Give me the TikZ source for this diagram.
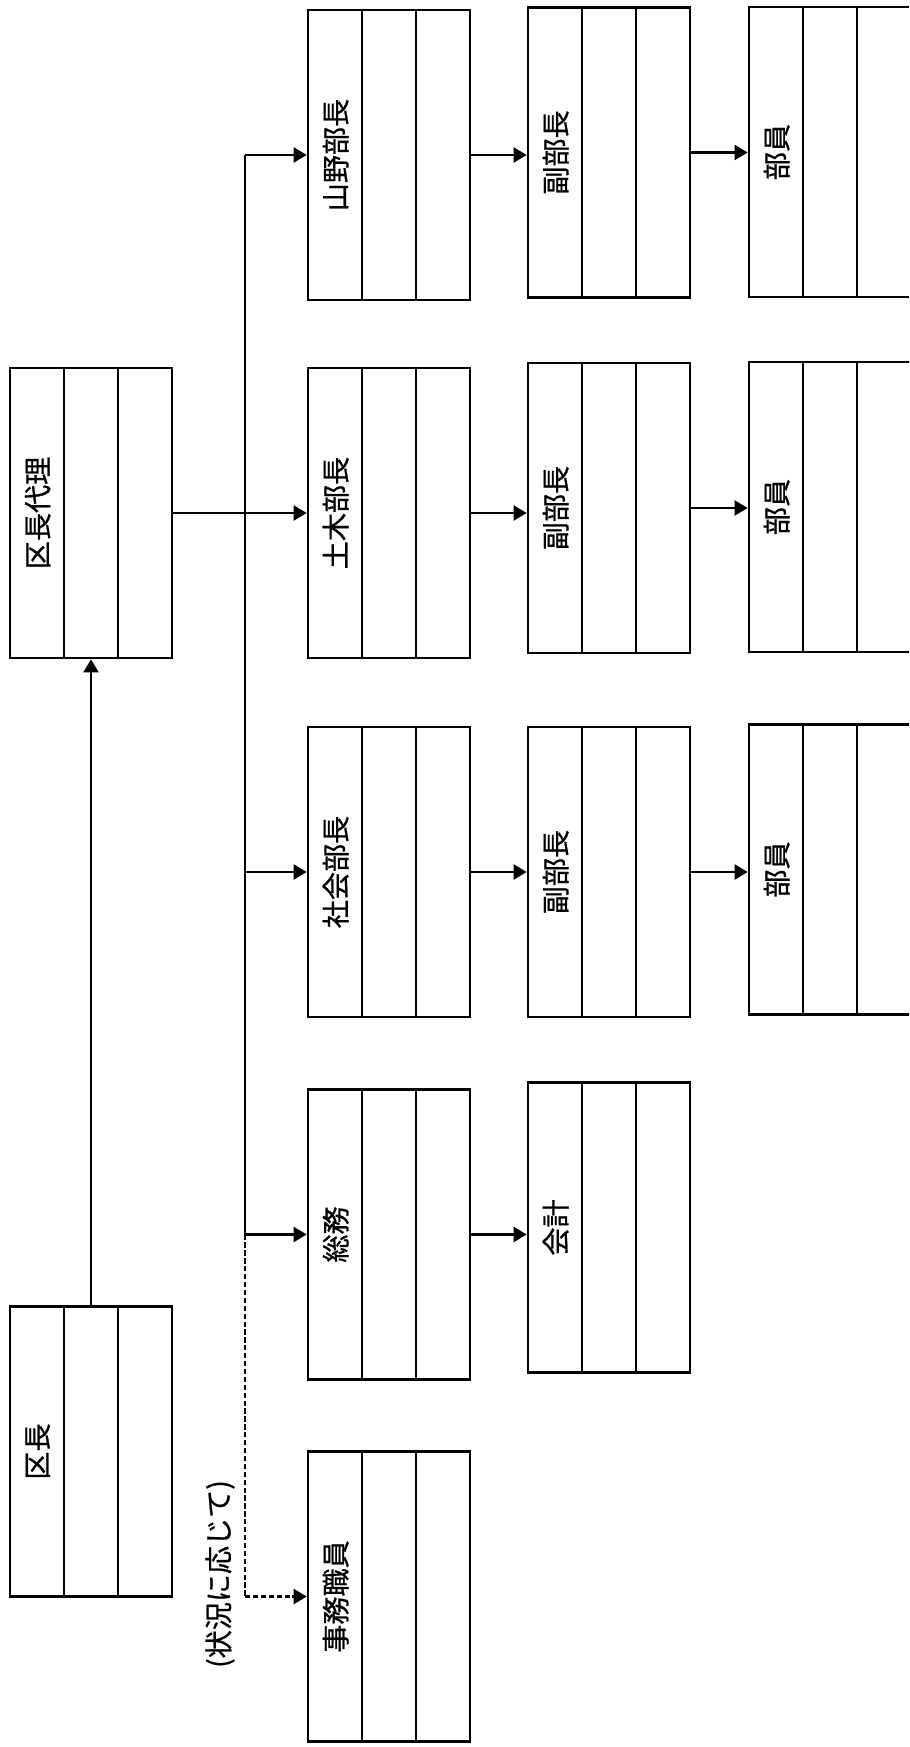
\documentclass[tikz,border=0pt]{standalone}
\usepackage{fontspec}
\setmainfont[FakeBold=0.8]{Noto Sans CJK JP}
\usetikzlibrary{arrows.meta, calc}
\tikzset{
    font=\fontsize{16pt}{16pt}\selectfont,
    box/.style={draw, line width=1.5pt, minimum width=3.24cm, minimum height=5.8cm,
                inner sep=0pt,
                path picture={
                    \foreach \f in {1,2} {
                        \draw[line width=1.3pt]
                            ($(path picture bounding box.north west)!\f/3!(path picture bounding box.north east)$) --
                            ($(path picture bounding box.south west)!\f/3!(path picture bounding box.south east)$);
                    }
                }},
    lbl/.style={rotate=90, inner sep=0pt},
    note/.style={rotate=90, inner sep=0pt},
    link/.style={-{Triangle[length=0.26cm, width=0.3cm]}, line width=1.2pt},
    trunk/.style={line width=1.2pt},
    maybe/.style={dash pattern=on 3pt off 1.5pt, line width=1.2pt},
}
% box with its title in the first stripe
\newcommand{\kumi}[4]{%
    \node[box] (#1) at (#2,#3) {};
    \node[lbl] (#1-t) at ($(#1.west)+(0.58,0)$) {#4};
}

\begin{document}
\begin{tikzpicture}[x=1cm, y={(0cm,-1cm)}]
    \useasboundingbox (0,0) rectangle (18.18,34.94);
    \clip (0,0) rectangle (18.18,34.94);

    \kumi{kucho}{1.82}{29.03}{区長}
    \kumi{dairi}{1.82}{10.26}{区長代理}

    \kumi{jimu}{7.78}{31.93}{事務職員}
    \kumi{somu}{7.78}{24.69}{総務}
    \kumi{kaikei}{12.18}{24.55}{会計}

    \kumi{shakai}{7.78}{17.44}{社会部長}
    \kumi{shakaifuku}{12.18}{17.44}{副部長}
    \kumi{shakaiin}{16.6}{17.39}{部員}

    \kumi{doboku}{7.78}{10.26}{土木部長}
    \kumi{dobokufuku}{12.18}{10.16}{副部長}
    \kumi{dobokuin}{16.6}{10.14}{部員}

    \kumi{sanya}{7.78}{3.1}{山野部長}
    \kumi{sanyafuku}{12.18}{3.05}{副部長}
    \kumi{sanyain}{16.6}{3.04}{部員}

    \coordinate (spine) at (4.9,0);

    \draw[link] (kucho.north) -- (dairi.south);
    \draw[link] (dairi.east) -- (dairi.east -| doboku.west);

    % trunk and branches
    \draw[trunk] (spine |- sanya.west) -- (spine |- somu.west);
    \draw[maybe] (spine |- somu.west) -- (spine |- jimu.west);
    \foreach \n in {sanya, shakai, somu} {
        \draw[link] (spine |- \n.west) -- (\n.west);
    }
    \draw[link, maybe] (spine |- jimu.west) -- (jimu.west);
    \node[note] (jokyo) at (4.4,31.48) {(状況に応じて)};

    % chains
    \draw[link] (somu.east) -- (somu.east -| kaikei.west);
    \foreach \a/\b in {shakai/shakaifuku, shakaifuku/shakaiin,
                       doboku/dobokufuku, dobokufuku/dobokuin,
                       sanya/sanyafuku, sanyafuku/sanyain} {
        \draw[link] (\a.east) -- (\a.east -| \b.west);
    }
\end{tikzpicture}
\end{document}
